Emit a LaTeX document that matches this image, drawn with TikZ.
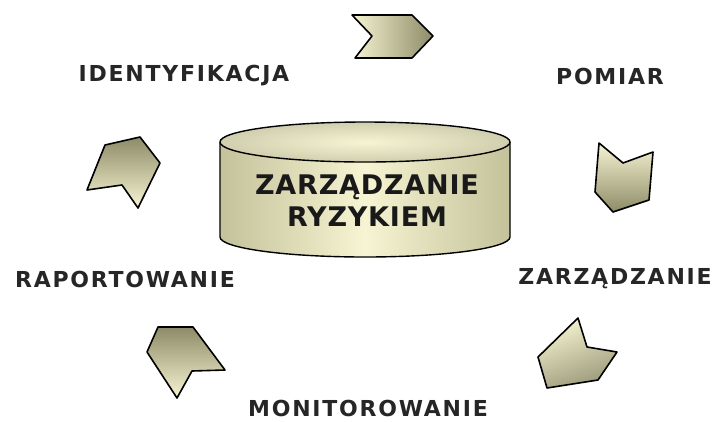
\documentclass[tikz,border=0pt]{standalone}
\usepackage{fontspec}
\setmainfont{DejaVu Sans}
\definecolor{krem}{HTML}{F6F4D2}
\definecolor{oliwka}{HTML}{8E8C68}
\definecolor{khaki}{HTML}{C4C29A}

\begin{document}
\begin{tikzpicture}[x=1pt,y=-1pt,
  etykieta/.style={inner sep=0pt,font=\fontsize{22}{24}\selectfont\bfseries\addfontfeature{LetterSpace=8},text=black!85},
  strzalka/.style={draw=black,line width=1.6pt,line join=round},
  walec/.style={draw=black,line width=1.4pt}]
\useasboundingbox (0,0) rectangle (714,421);

% walec w srodku
\shade[left color=khaki,right color=khaki,middle color=krem] (220,142) -- (220,237)
arc[start angle=180,end angle=360,x radius=145pt,y radius=20pt] -- (510,142) -- cycle;
\draw[walec] (220,142) -- (220,237)
arc[start angle=180,end angle=360,x radius=145pt,y radius=20pt] -- (510,142);
\shade[walec,inner color=krem,outer color=khaki!80] (365,142) ellipse[x radius=145pt,y radius=20pt];
\node (srodek) at (367,201) [align=center,font=\fontsize{27}{32}\selectfont\bfseries\addfontfeature{LetterSpace=3},text=black!90]
{ZARZĄDZANIE\\RYZYKIEM};

% etykiety
\node[etykieta] (identyfikacja) at (184,76) {IDENTYFIKACJA};
\node[etykieta] (pomiar) at (610,76) {POMIAR};
\node[etykieta] (zarzadzanie) at (615,279) {ZARZĄDZANIE};
\node[etykieta] (raportowanie) at (125,279) {RAPORTOWANIE};
\node[etykieta] (monitorowanie) at (368,408) {MONITOROWANIE};

% strzalki
\shade[strzalka,left color=krem,right color=oliwka]
(352,15) -- (412,15) -- (433,36) -- (412,58) -- (355,58) -- (372,36) -- cycle;
\shade[strzalka,top color=krem,bottom color=oliwka]
(599,143) -- (623,163) -- (653,152) -- (649,200) -- (613,212) -- (595,192) -- cycle;
\shade[strzalka,top color=krem,bottom color=oliwka!90,shading angle=20]
(578,318) -- (587,347) -- (617,352) -- (598,380) -- (547,388) -- (538,357) -- cycle;
\shade[strzalka,top color=oliwka,bottom color=krem]
(158,327) -- (193,327) -- (225,370) -- (192,371) -- (177,398) -- (147,352) -- cycle;
\shade[strzalka,top color=oliwka,bottom color=krem]
(105,145) -- (140,137) -- (160,163) -- (138,208) -- (122,185) -- (87,190) -- cycle;

\end{tikzpicture}
\end{document}
